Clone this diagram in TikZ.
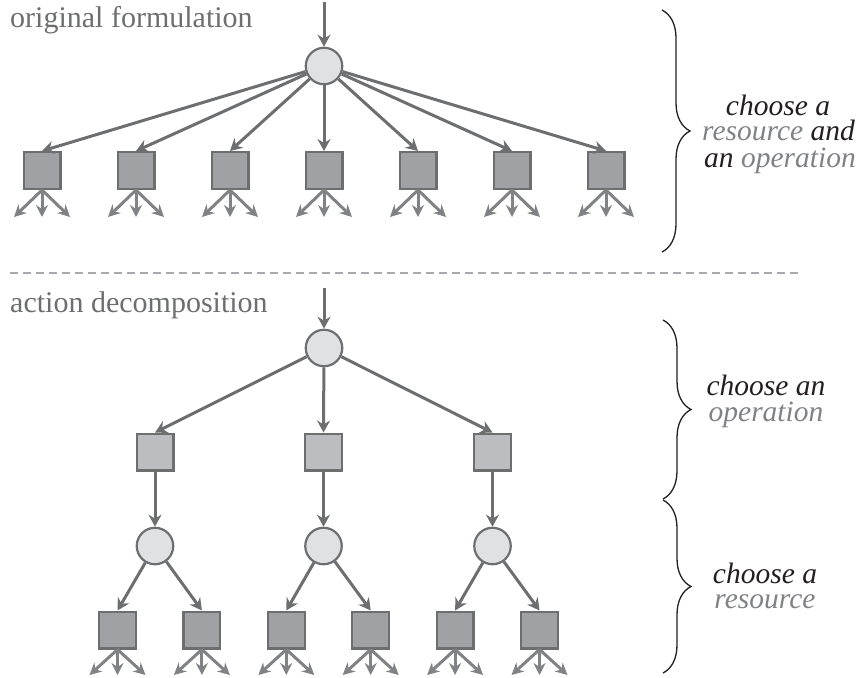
\documentclass[tikz,border=0pt]{standalone}
\usepackage{fontspec}
\setmainfont{Liberation Serif}
\usetikzlibrary{arrows.meta,decorations.pathreplacing}
\definecolor{edgegray}{HTML}{6D6E70}
\definecolor{circfill}{HTML}{E0E1E3}
\definecolor{opfill}{HTML}{BCBDC0}
\definecolor{leaffill}{HTML}{A0A1A4}
\definecolor{smallgray}{HTML}{808285}
\definecolor{dashgray}{HTML}{A7A9AC}
\definecolor{textblack}{HTML}{231F20}
\begin{document}
\begin{tikzpicture}[x=1pt,y=-1pt,
  circ/.style={circle,draw=edgegray,fill=circfill,line width=2.2pt,minimum size=36.5pt,inner sep=0pt},
  opsq/.style={rectangle,draw=edgegray,fill=opfill,line width=2.2pt,minimum size=36.8pt,inner sep=0pt},
  leafsq/.style={rectangle,draw=edgegray,fill=leaffill,line width=2.2pt,minimum size=36.8pt,inner sep=0pt},
  arr/.style={draw=edgegray,line width=3pt,-{Stealth[length=12pt,width=13pt,inset=4pt]}},
  sarr/.style={draw=smallgray,line width=3pt,-{Stealth[length=12pt,width=12pt,inset=4pt]}},
  lbl/.style={font=\fontsize{30}{31}\selectfont,text=edgegray,anchor=base west,inner sep=0pt},
  rtxt/.style={font=\fontsize{29.5}{30}\selectfont\itshape,text=textblack,inner sep=0pt,anchor=base,text height=15pt,text depth=4pt},
  brc/.style={decorate,decoration={brace,amplitude=28pt},line width=1.3pt,draw=textblack},
  dashln/.style={draw=dashgray,line width=2.2pt,dash pattern=on 8pt off 5pt}
  ]
\useasboundingbox (0,0) rectangle (861,677);

% ---------- original formulation ----------
\node[lbl] (lab1) at (10,28) {original formulation};
\node[circ] (r1) at (324,66) {};
\coordinate (r1in) at (324,2);
\draw[arr] (r1in) -- (r1);
\foreach \i in {0,...,6}{
  \node[leafsq] (t\i) at ({42+94*\i},170.5) {};
  \draw[arr] (r1) -- (t\i.north);
  \coordinate (t\i a) at ({42+94*\i-28},217);
  \coordinate (t\i b) at ({42+94*\i},217);
  \coordinate (t\i c) at ({42+94*\i+28},217);
  \draw[sarr] (t\i.south) -- (t\i a);
  \draw[sarr] (t\i.south) -- (t\i b);
  \draw[sarr] (t\i.south) -- (t\i c);
}

% ---------- separator ----------
\coordinate (dl) at (10,273);
\coordinate (dr) at (800,273);
\draw[dashln] (dl) -- (dr);

% ---------- action decomposition ----------
\node[lbl] (lab2) at (10,312) {action decomposition};
\node[circ] (r2) at (324,348) {};
\coordinate (r2in) at (324,288);
\draw[arr] (r2in) -- (r2);
\foreach \j/\x in {1/155,2/323.5,3/492.5}{
  \node[opsq] (o\j) at (\x,452) {};
  \node[circ] (c\j) at (\x,546) {};
  \draw[arr] (r2) -- (o\j.north);
  \draw[arr] (o\j) -- (c\j);
}
\foreach \k in {1,...,6}{
  \node[leafsq] (l\k) at ({117.5+84.4*(\k-1)},630) {};
  \coordinate (l\k a) at ({117.5+84.4*(\k-1)-28},675);
  \coordinate (l\k b) at ({117.5+84.4*(\k-1)},675);
  \coordinate (l\k c) at ({117.5+84.4*(\k-1)+28},675);
  \draw[sarr] (l\k.south) -- (l\k a);
  \draw[sarr] (l\k.south) -- (l\k b);
  \draw[sarr] (l\k.south) -- (l\k c);
}
\draw[arr] (c1) -- (l1.north);
\draw[arr] (c1) -- (l2.north);
\draw[arr] (c2) -- (l3.north);
\draw[arr] (c2) -- (l4.north);
\draw[arr] (c3) -- (l5.north);
\draw[arr] (c3) -- (l6.north);

% ---------- braces and captions ----------
\coordinate (b1t) at (662,10);
\coordinate (b1b) at (662,252);
\draw[brc] (b1t) -- (b1b);
\coordinate (b2t) at (663,320);
\coordinate (b2b) at (663,499);
\draw[brc] (b2t) -- (b2b);
\coordinate (b3t) at (663,500);
\coordinate (b3b) at (663,673);
\draw[brc] (b3t) -- (b3b);

\node[rtxt] (t1l1) at (778,115) {choose a};
\node[rtxt] (t1l2) at (778.5,140) {\textcolor{smallgray}{resource} and};
\node[rtxt] (t1l3) at (780,167) {an \textcolor{smallgray}{operation}};
\node[rtxt] (t2l1) at (766,395) {choose an};
\node[rtxt] (t2l2) at (766,421) {\textcolor{smallgray}{operation}};
\node[rtxt] (t3l1) at (765,583) {choose a};
\node[rtxt] (t3l2) at (765,608) {\textcolor{smallgray}{resource}};
\end{tikzpicture}
\end{document}
